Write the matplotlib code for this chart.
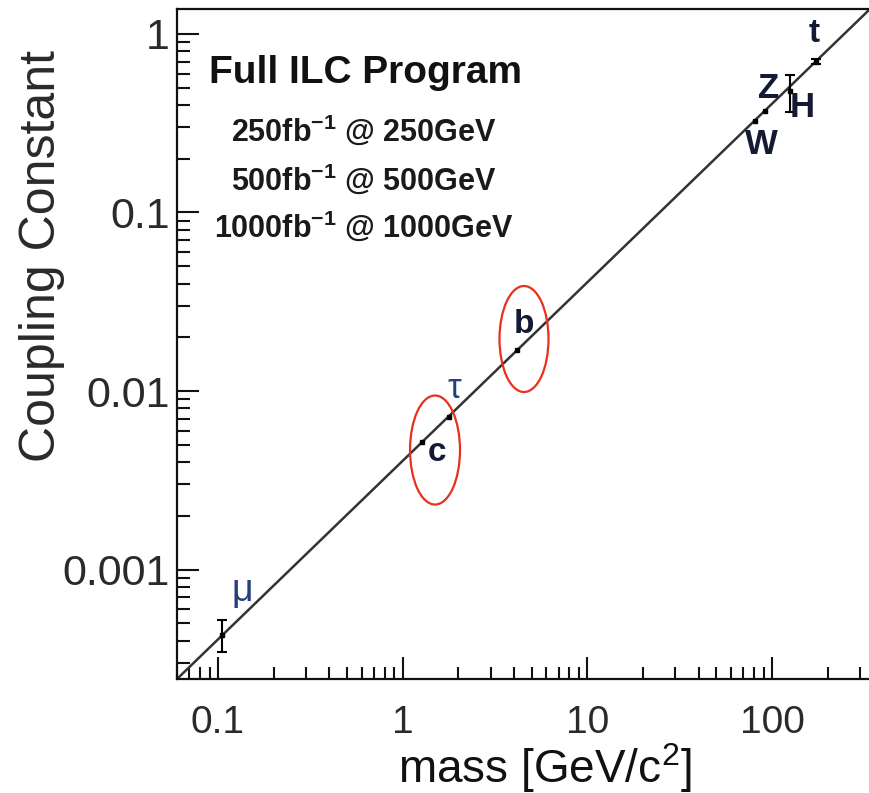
import matplotlib
matplotlib.use("Agg")
import matplotlib.pyplot as plt
import numpy as np
from matplotlib.patches import Ellipse
from matplotlib.ticker import FixedLocator, FixedFormatter, NullFormatter

plt.rcParams['font.family'] = ['Liberation Sans', 'DejaVu Sans']
plt.rcParams['mathtext.fontset'] = 'custom'
plt.rcParams['mathtext.rm'] = 'Liberation Sans'
plt.rcParams['mathtext.bf'] = 'Liberation Sans:bold'
plt.rcParams['mathtext.default'] = 'regular'

# ---- data ----
particles = ['μ', 'c', 'τ', 'b', 'W', 'Z', 'H', 't']
masses = [0.1057, 1.27, 1.777, 4.18, 80.4, 91.2, 125.0, 173.0]
couplings = [0.00043, 0.0052, 0.0072, 0.017, 0.327, 0.37, 0.48, 0.70]
err_low = [0.000085, 0.0, 0.0, 0.0, 0.0, 0.0, 0.114, 0.02]
err_high = [0.00009, 0.0, 0.0, 0.0, 0.0, 0.0, 0.11, 0.02]
vev = 246.0
line_mass = [0.05, 400.0]

x_ticks = [0.1, 1, 10, 100]
x_ticklabels = ['0.1', '1', '10', '100']
y_ticks = [0.001, 0.01, 0.1, 1]
y_ticklabels = ['0.001', '0.01', '0.1', '1']

program_title = 'Full ILC Program'
program_lines = [r'250fb$^{\mathbf{-1}}$ @ 250GeV',
                 r'500fb$^{\mathbf{-1}}$ @ 500GeV',
                 r'1000fb$^{\mathbf{-1}}$ @ 1000GeV']

# ---- figure ----
fig = plt.figure(figsize=(8.69, 7.93), dpi=100)
ax = fig.add_axes([0.2037, 0.1438, 0.7963, 0.8449])
ax.set_xscale('log')
ax.set_yscale('log')
ax.set_xlim(0.060, 335)
ax.set_ylim(0.000244, 1.38)

# fit line
lm = np.array(line_mass)
ax.plot(lm, lm / vev, color='#333333', lw=1.8, zorder=2)

# points
m = np.array(masses)
cpl = np.array(couplings)
el = np.array(err_low)
eh = np.array(err_high)
ax.plot(m, cpl, 's', ms=3.5, color='black', zorder=3)
has_err = (el > 0) | (eh > 0)
ax.errorbar(m[has_err], cpl[has_err], yerr=[el[has_err], eh[has_err]], fmt='none',
            ecolor='black', elinewidth=1.5, capsize=3.5, capthick=1.5, zorder=3)

# labels (offsets in points)
label_style = {
    'μ': dict(off=(14, 32), color='#25407a', weight='normal', size=27),
    'τ': dict(off=(4, 20), color='#25407a', weight='normal', size=25),
    'c': dict(off=(11, -8), color='#141a33', weight='bold', size=24),
    'b': dict(off=(5, 18), color='#141a33', weight='bold', size=24),
    'W': dict(off=(5, -17), color='#141a33', weight='bold', size=25),
    'Z': dict(off=(3, 16), color='#141a33', weight='bold', size=25),
    'H': dict(off=(9, -12), color='#141a33', weight='bold', size=25),
    't': dict(off=(-1, 20), color='#141a33', weight='bold', size=24),
}
for name, xm, yc in zip(particles, masses, couplings):
    st = label_style[name]
    ax.annotate(name, (xm, yc), xytext=st['off'], textcoords='offset points',
                ha='center', va='center', color=st['color'],
                fontweight=st['weight'], fontsize=st['size'], zorder=4)

# program text
ax.text(0.2717, 0.9045, program_title, transform=ax.transAxes, ha='center',
        va='center', fontsize=28, fontweight='bold', color='#111111')
for yy, s in zip([0.8179, 0.7448, 0.676], program_lines):
    ax.text(0.2702, yy, s, transform=ax.transAxes, ha='center', va='center',
            fontsize=22, fontweight='bold', color='#1a1a1a')

# red ellipses
for cx, cy, w, h in [(0.5006, 0.4325, 0.0575, 0.1375), (0.603, 0.5725, 0.0564, 0.1337)]:
    e = Ellipse((cx, cy), w, h, transform=fig.transFigure, fill=False,
                edgecolor='#e8301c', lw=1.6, clip_on=False, zorder=5)
    fig.add_artist(e)

# axes styling
for side in ['left', 'bottom', 'top']:
    ax.spines[side].set_linewidth(1.6)
    ax.spines[side].set_color('#111111')
ax.spines['right'].set_visible(False)

ax.xaxis.set_major_locator(FixedLocator(x_ticks))
ax.xaxis.set_major_formatter(FixedFormatter(x_ticklabels))
ax.xaxis.set_minor_formatter(NullFormatter())
ax.yaxis.set_major_locator(FixedLocator(y_ticks))
ax.yaxis.set_major_formatter(FixedFormatter(y_ticklabels))
ax.yaxis.set_minor_formatter(NullFormatter())

ax.tick_params(which='major', direction='in', length=16, width=1.5, color='#111111')
ax.tick_params(which='minor', direction='in', length=9, width=1.5, color='#111111')
ax.tick_params(axis='y', which='both', right=False, left=True)
ax.tick_params(axis='x', which='both', top=False, bottom=True)
ax.tick_params(axis='y', which='major', labelsize=31, labelcolor='#2a2a2a', pad=5)
ax.tick_params(axis='x', which='major', labelsize=28, pad=19, labelcolor='#2a2a2a')

ax.set_ylabel('Coupling Constant', fontsize=36, color='#2a2a2a')
ax.yaxis.set_label_coords(-0.162, 0.631)
ax.set_xlabel(r'mass [GeV/c$^2$]', fontsize=33, color='#111111')
ax.xaxis.set_label_coords(0.531, -0.092)

fig.savefig('out.png', dpi=100)
